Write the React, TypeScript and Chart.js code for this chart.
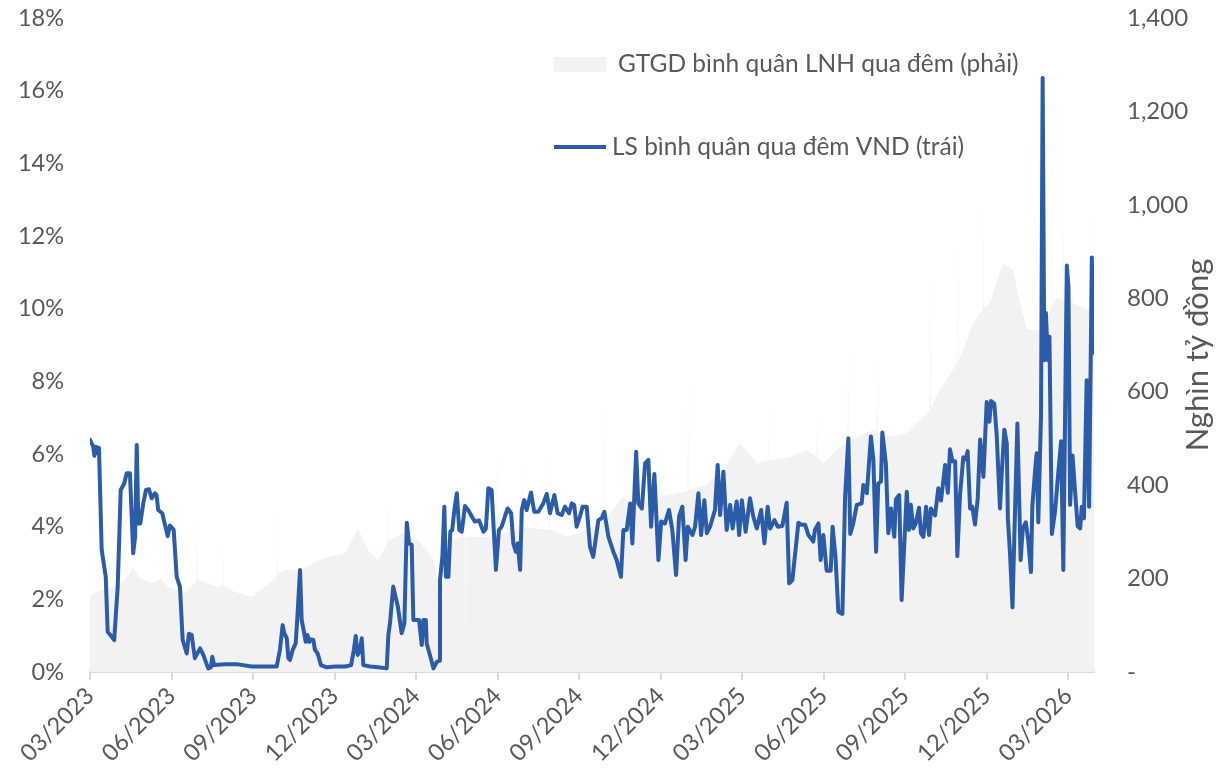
import React, { useEffect, useRef } from 'react';
import { Chart, registerables } from 'chart.js';

Chart.register(...registerables);

// X axis: months elapsed since 03/2023
const xTickMonths = [0, 3, 6, 9, 12, 15, 18, 21, 24, 27, 30, 33, 36];
const xTickLabels = ['03/2023', '06/2023', '09/2023', '12/2023', '03/2024', '06/2024', '09/2024', '12/2024', '03/2025', '06/2025', '09/2025', '12/2025', '03/2026'];
const xMaxMonth = 36.95;

// Left axis (%), right axis (nghìn tỷ đồng)
const leftTicks = [0, 2, 4, 6, 8, 10, 12, 14, 16, 18];
const rightTicks = [0, 200, 400, 600, 800, 1000, 1200, 1400];

const legendVolume = 'GTGD bình quân LNH qua đêm (phải)';
const legendRate = 'LS bình quân qua đêm VND (trái)';
const rightTitle = 'Nghìn tỷ đồng';

// LS bình quân qua đêm VND (%)
const rateMonths = [
  0.00, 0.12, 0.16, 0.22, 0.26, 0.33, 0.43, 0.58, 0.65, 0.80, 0.89, 1.02, 1.13, 1.26, 1.35, 1.47, 1.59, 1.66, 1.72, 1.78,
  1.85, 1.96, 2.06, 2.17, 2.27, 2.39, 2.45, 2.51, 2.66, 2.76, 2.86, 2.94, 3.08, 3.19, 3.31, 3.41, 3.56, 3.64, 3.74, 3.86,
  4.05, 4.17, 4.35, 4.45, 4.50, 4.57, 4.97, 5.45, 5.95, 6.19, 6.87, 6.99, 7.09, 7.15, 7.24, 7.30, 7.36, 7.46, 7.57, 7.64,
  7.73, 7.79, 7.85, 7.94, 8.00, 8.07, 8.13, 8.22, 8.28, 8.38, 8.50, 8.71, 9.02, 9.39, 9.61, 9.71, 9.78, 9.85, 9.94, 10.00,
  10.06, 10.31, 10.61, 10.92, 10.98, 11.04, 11.16, 11.33, 11.47, 11.57, 11.66, 11.74, 11.84, 11.90, 12.11, 12.21, 12.27, 12.36, 12.39, 12.51,
  12.64, 12.76, 12.86, 12.88, 12.97, 13.04, 13.10, 13.19, 13.26, 13.33, 13.41, 13.50, 13.59, 13.68, 13.72, 13.80, 13.92, 14.05, 14.17, 14.32,
  14.48, 14.57, 14.66, 14.78, 14.94, 15.05, 15.15, 15.27, 15.37, 15.50, 15.58, 15.67, 15.74, 15.83, 15.89, 15.98, 16.07, 16.23, 16.35, 16.50,
  16.68, 16.81, 16.93, 17.09, 17.21, 17.36, 17.48, 17.63, 17.73, 17.82, 17.91, 18.03, 18.13, 18.28, 18.40, 18.52, 18.71, 18.83, 18.93, 19.08,
  19.26, 19.38, 19.54, 19.63, 19.75, 19.88, 19.96, 20.10, 20.18, 20.31, 20.43, 20.55, 20.65, 20.77, 20.92, 21.02, 21.16, 21.31, 21.43, 21.57,
  21.68, 21.80, 21.92, 22.00, 22.17, 22.27, 22.39, 22.49, 22.61, 22.70, 22.82, 23.00, 23.10, 23.19, 23.31, 23.43, 23.56, 23.65, 23.80, 23.89,
  23.99, 24.13, 24.29, 24.41, 24.54, 24.70, 24.82, 24.94, 25.03, 25.19, 25.31, 25.48, 25.64, 25.73, 25.85, 26.07, 26.19, 26.32, 26.44, 26.62,
  26.68, 26.81, 26.89, 26.99, 27.11, 27.26, 27.33, 27.44, 27.54, 27.69, 27.79, 27.91, 27.98, 28.09, 28.22, 28.40, 28.46, 28.59, 28.74, 28.83,
  28.93, 29.01, 29.11, 29.16, 29.29, 29.38, 29.48, 29.60, 29.66, 29.78, 29.87, 30.06, 30.14, 30.21, 30.30, 30.39, 30.51, 30.58, 30.67, 30.77,
  30.88, 30.95, 31.10, 31.22, 31.32, 31.47, 31.57, 31.65, 31.74, 31.84, 31.92, 32.02, 32.14, 32.23, 32.30, 32.39, 32.47, 32.57, 32.67, 32.76,
  32.88, 33.00, 33.10, 33.16, 33.28, 33.37, 33.49, 33.56, 33.65, 33.74, 33.78, 33.86, 33.95, 34.04, 34.13, 34.25, 34.33, 34.44, 34.53, 34.63,
  34.68, 34.78, 34.84, 34.90, 35.00, 35.06, 35.12, 35.18, 35.25, 35.31, 35.40, 35.52, 35.64, 35.74, 35.82, 35.95, 36.01, 36.07, 36.16, 36.25,
  36.35, 36.44, 36.50, 36.58, 36.68, 36.77, 36.87, 36.95,
];
const rateValues = [
  6.39, 6.20, 5.95, 6.20, 6.03, 6.17, 3.36, 2.62, 1.11, 0.97, 0.88, 2.35, 5.01, 5.19, 5.47, 5.47, 3.27, 3.72, 6.25, 4.09,
  4.09, 4.64, 5.01, 5.03, 4.78, 4.92, 4.87, 4.46, 4.37, 4.05, 3.74, 4.03, 3.91, 2.62, 2.35, 0.88, 0.51, 1.05, 1.02, 0.38,
  0.65, 0.47, 0.10, 0.13, 0.42, 0.19, 0.21, 0.21, 0.15, 0.15, 0.15, 0.61, 1.29, 1.07, 0.93, 0.38, 0.33, 0.61, 0.79, 1.61,
  2.81, 1.43, 1.20, 0.83, 1.02, 0.83, 0.90, 0.88, 0.61, 0.51, 0.19, 0.13, 0.15, 0.15, 0.19, 0.61, 0.99, 0.47, 0.61, 0.93,
  0.19, 0.15, 0.13, 0.10, 1.02, 1.34, 2.35, 1.80, 1.07, 1.34, 4.11, 3.54, 3.50, 1.43, 1.43, 0.74, 1.43, 1.43, 0.79, 0.47,
  0.10, 0.28, 0.31, 2.53, 3.17, 4.55, 2.62, 2.62, 3.86, 3.91, 4.46, 4.92, 3.91, 3.86, 4.09, 4.57, 4.46, 4.28, 4.14, 4.17,
  3.86, 3.95, 5.06, 5.01, 2.81, 3.91, 4.00, 4.28, 4.50, 4.37, 3.54, 3.31, 3.54, 2.81, 4.46, 4.73, 4.46, 4.94, 4.41, 4.41,
  4.64, 4.90, 4.37, 4.87, 4.37, 4.32, 4.55, 4.37, 4.64, 4.60, 4.00, 4.28, 4.55, 4.55, 3.45, 3.17, 4.18, 4.23, 4.41, 3.72,
  3.31, 3.08, 2.62, 3.91, 3.91, 4.64, 3.54, 6.06, 4.64, 4.50, 5.74, 5.84, 4.00, 5.45, 3.08, 4.14, 4.09, 4.46, 3.91, 2.67,
  4.28, 4.55, 3.08, 4.00, 3.77, 4.00, 4.92, 3.77, 4.73, 3.82, 4.00, 4.46, 5.70, 4.32, 5.51, 3.91, 4.60, 3.95, 4.69, 3.77,
  4.73, 3.86, 4.78, 4.28, 3.95, 4.46, 3.54, 4.55, 3.95, 4.18, 4.00, 4.02, 4.66, 2.44, 2.53, 4.11, 4.05, 4.05, 3.77, 3.59,
  3.91, 4.09, 3.08, 3.77, 2.79, 2.79, 4.00, 3.13, 1.66, 1.60, 4.83, 6.43, 3.80, 4.09, 4.60, 4.64, 5.15, 4.92, 6.48, 5.84,
  3.31, 5.19, 5.24, 6.59, 5.74, 3.82, 4.50, 3.72, 4.75, 4.87, 1.98, 4.96, 3.91, 4.60, 3.95, 4.09, 4.52, 3.82, 3.72, 4.55,
  3.77, 4.50, 4.31, 5.06, 4.72, 5.70, 4.93, 6.13, 5.80, 5.80, 3.19, 4.88, 5.91, 5.86, 6.08, 4.50, 4.55, 4.06, 4.77, 6.40,
  5.37, 7.43, 6.89, 7.46, 7.38, 6.51, 4.50, 5.53, 6.67, 6.29, 4.23, 3.25, 1.78, 4.34, 6.84, 3.08, 3.95, 4.12, 3.63, 2.75,
  4.55, 5.53, 6.02, 4.12, 7.06, 16.35, 8.58, 9.88, 8.58, 9.23, 3.80, 4.44, 5.53, 6.35, 2.81, 11.19, 10.59, 4.60, 5.96, 4.99,
  4.01, 3.95, 4.55, 4.23, 8.03, 4.55, 11.41, 8.79,
];

// GTGD bình quân LNH qua đêm (nghìn tỷ đồng)
const volumeMonths = [
  0.00, 0.18, 0.55, 0.92, 1.29, 1.58, 1.84, 2.28, 2.58, 2.87, 3.50, 3.92, 3.94, 3.96, 4.34, 4.71, 4.88, 4.90, 4.91, 5.34,
  5.96, 6.44, 6.81, 6.87, 6.89, 6.90, 7.18, 7.80, 8.28, 8.65, 9.39, 9.86, 10.23, 10.60, 10.95, 10.97, 10.99, 11.48, 11.90, 11.92,
  11.94, 12.07, 12.59, 12.81, 12.86, 12.88, 12.90, 13.07, 13.32, 13.81, 13.83, 13.85, 14.54, 14.96, 14.98, 15.00, 15.27, 15.88, 15.90, 15.92,
  16.01, 16.91, 16.93, 16.95, 17.00, 17.59, 18.22, 18.84, 18.90, 18.92, 18.94, 19.62, 19.93, 19.95, 19.97, 20.24, 20.87, 20.92, 20.94, 20.96,
  21.46, 21.99, 22.01, 22.03, 22.08, 22.64, 23.30, 23.92, 24.55, 24.93, 24.95, 24.97, 25.14, 25.76, 26.39, 26.74, 26.76, 26.78, 26.98, 27.60,
  27.88, 27.90, 27.92, 28.23, 28.82, 28.95, 28.97, 28.99, 29.44, 30.07, 30.66, 30.90, 30.92, 30.94, 31.28, 31.91, 31.93, 31.95, 31.97, 32.50,
  32.85, 32.87, 32.89, 33.12, 33.60, 33.97, 34.23, 34.49, 34.97, 35.59, 35.79, 35.81, 35.83, 36.18, 36.80, 36.89, 36.91, 36.93, 36.95,
];
const volumeValues = [
  161, 170, 176, 185, 197, 223, 200, 190, 200, 182, 169, 195, 360, 197, 190, 182, 185, 297, 185, 171,
  161, 182, 200, 205, 375, 210, 218, 218, 235, 244, 255, 308, 261, 240, 275, 375, 280, 297, 288, 396,
  285, 283, 246, 197, 230, 486, 240, 260, 283, 290, 15, 290, 289, 292, 490, 293, 297, 305, 475, 305,
  310, 304, 490, 304, 304, 289, 304, 315, 320, 597, 325, 375, 365, 512, 365, 360, 375, 375, 539, 375,
  380, 388, 661, 390, 390, 400, 432, 490, 447, 452, 643, 452, 454, 460, 475, 460, 554, 458, 447, 482,
  490, 704, 492, 503, 518, 514, 689, 512, 503, 512, 546, 560, 888, 565, 604, 661, 663, 946, 665, 747,
  775, 1025, 778, 790, 875, 861, 790, 732, 732, 803, 795, 1040, 795, 790, 775, 770, 1117, 770, 760,
];

const FONT = 'Lato';
const TEXT = '#595959';
const LINE = '#2a5caa';
const AREA = '#f2f2f2';

const overlayPlugin = {
  id: 'overlay',
  afterDraw(chart: any) {
    const { ctx, chartArea } = chart;
    ctx.save();
    ctx.font = `24.5px ${FONT}`;
    ctx.textBaseline = 'middle';
    ctx.textAlign = 'left';
    const lx = chartArea.left + 464;
    // area legend
    ctx.fillStyle = AREA;
    ctx.fillRect(lx, 57, 52, 15);
    ctx.fillStyle = TEXT;
    ctx.fillText(legendVolume, lx + 64, 64);
    // line legend
    ctx.strokeStyle = LINE;
    ctx.lineWidth = 4;
    ctx.beginPath();
    ctx.moveTo(lx, 147);
    ctx.lineTo(lx + 52, 147);
    ctx.stroke();
    ctx.fillText(legendRate, lx + 58, 147);
    // right axis title
    ctx.font = `31px ${FONT}`;
    ctx.translate(1198, 355);
    ctx.rotate(-Math.PI / 2);
    ctx.textAlign = 'center';
    ctx.fillText(rightTitle, 0, 0);
    ctx.restore();
  },
};

const noVerticalPadding = (s: any) => {
  s.paddingTop = 0;
  s.paddingBottom = 0;
};

export default function App() {
  const ref = useRef<HTMLCanvasElement | null>(null);
  useEffect(() => {
    if (!ref.current) return;
    const chart = new Chart(ref.current, {
      type: 'line',
      data: {
        datasets: [
          {
            label: legendRate,
            data: rateMonths.map((m, i) => ({ x: m, y: rateValues[i] })),
            borderColor: LINE,
            borderWidth: 4,
            borderJoinStyle: 'round',
            borderCapStyle: 'round',
            pointRadius: 0,
            tension: 0,
            fill: false,
            yAxisID: 'y',
            order: 0,
          },
          {
            label: legendVolume,
            data: volumeMonths.map((m, i) => ({ x: m, y: volumeValues[i] })),
            borderWidth: 0,
            borderColor: 'rgba(0,0,0,0)',
            backgroundColor: AREA,
            pointRadius: 0,
            tension: 0,
            fill: 'origin',
            yAxisID: 'y1',
            order: 1,
          },
        ],
      },
      options: {
        responsive: false,
        animation: false,
        devicePixelRatio: 1,
        layout: { autoPadding: false, padding: { top: 18, left: 0, right: 0, bottom: 0 } },
        plugins: { legend: { display: false }, tooltip: { enabled: false } },
        scales: {
          x: {
            type: 'linear',
            min: 0,
            max: xMaxMonth,
            afterBuildTicks: (s: any) => {
              s.ticks = xTickMonths.map((v) => ({ value: v }));
            },
            afterFit: (s: any) => {
              s.height = 102;
              s.paddingLeft = 0;
              s.paddingRight = 0;
            },
            grid: { display: true, drawOnChartArea: false, drawTicks: true, tickLength: 8, color: '#d9d9d9', lineWidth: 2 },
            border: { display: true, color: '#d9d9d9', width: 2 },
            ticks: {
              autoSkip: false,
              minRotation: 45,
              maxRotation: 45,
              padding: 2,
              color: TEXT,
              font: { family: FONT, size: 23.5 },
              callback: (v: any) => {
                const idx = xTickMonths.indexOf(Number(v));
                return idx >= 0 ? xTickLabels[idx] : '';
              },
            },
          },
          y: {
            type: 'linear',
            position: 'left',
            min: 0,
            max: 18,
            afterBuildTicks: (s: any) => {
              s.ticks = leftTicks.map((v) => ({ value: v }));
            },
            afterFit: (s: any) => {
              s.width = 90;
              noVerticalPadding(s);
            },
            grid: { display: false, drawTicks: false },
            border: { display: false },
            ticks: {
              padding: 26,
              color: TEXT,
              font: { family: FONT, size: 23.5 },
              callback: (v: any) => `${v}%`,
            },
          },
          y1: {
            type: 'linear',
            position: 'right',
            min: 0,
            max: 1400,
            afterBuildTicks: (s: any) => {
              s.ticks = rightTicks.map((v) => ({ value: v }));
            },
            afterFit: (s: any) => {
              s.width = 123;
              noVerticalPadding(s);
            },
            grid: { display: false, drawTicks: false },
            border: { display: false },
            ticks: {
              padding: 33,
              color: TEXT,
              font: { family: FONT, size: 24 },
              callback: (v: any) => (Number(v) === 0 ? '-' : Number(v).toLocaleString('en-US')),
            },
          },
        },
      },
      plugins: [overlayPlugin],
    } as any);
    return () => chart.destroy();
  }, []);
  return (
    <div style={{ position: 'fixed', left: 0, top: 0, width: 1217, height: 774, background: '#fff' }}>
      <canvas ref={ref} width={1217} height={774} style={{ width: 1217, height: 774, display: 'block' }} />
    </div>
  );
}
